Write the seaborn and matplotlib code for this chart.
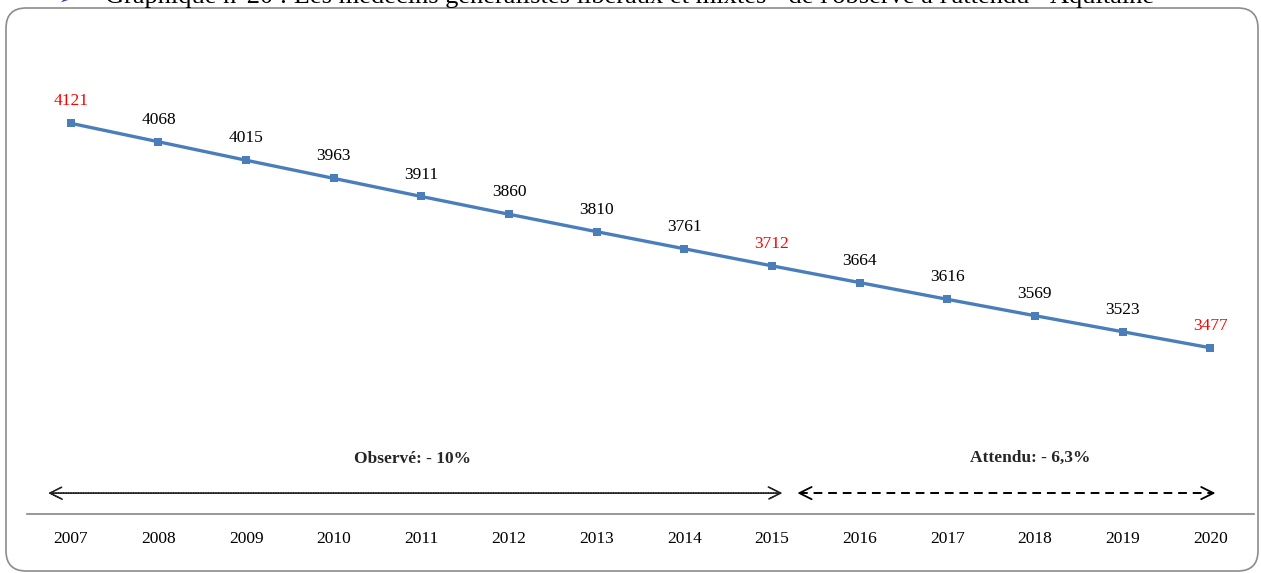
import matplotlib
matplotlib.use("Agg")
import matplotlib.pyplot as plt
import seaborn as sns
import pandas as pd
from matplotlib.patches import FancyBboxPatch

years = ["2007", "2008", "2009", "2010", "2011", "2012", "2013",
         "2014", "2015", "2016", "2017", "2018", "2019", "2020"]
values = [4121, 4068, 4015, 3963, 3911, 3860, 3810, 3761, 3712,
          3664, 3616, 3569, 3523, 3477]
red_years = ["2007", "2015", "2020"]
title = "Graphique n°20 : Les médecins généralistes libéraux et mixtes - de l'observé à l'attendu - Aquitaine"
observed_label = "Observé: - 10%"
expected_label = "Attendu: - 6,3%"

sns.set_theme(style="white")
plt.rcParams['font.family'] = ['Liberation Serif', 'DejaVu Serif']

W, H = 1261, 573
fig = plt.figure(figsize=(W / 100, H / 100), dpi=100)

left_px, right_px = 27, 1254
bottom_px, top_px = 514, 40
ax = fig.add_axes([left_px / W, 1 - bottom_px / H, (right_px - left_px) / W, (bottom_px - top_px) / H])

df = pd.DataFrame({"idx": range(len(years)), "value": values, "year": years})
sns.lineplot(data=df, x="idx", y="value", ax=ax, color="#4A7EBB", linewidth=2.4,
             marker="s", markersize=6, markeredgewidth=0, markerfacecolor="#4A7EBB")

ymin, ymax = 3000, 4360
ax.set_xlim(-0.5, len(years) - 0.5)
ax.set_ylim(ymin, ymax)

for i, (y, v) in enumerate(zip(years, values)):
    ax.annotate(str(v), (i, v), xytext=(0, 10), textcoords="offset points",
                ha="center", va="bottom", fontsize=12.5,
                color="#FF0000" if y in red_years else "black")

ax.set_xticks(range(len(years)))
ax.set_xticklabels(years, fontsize=12.5)
ax.set_xticks([i - 0.5 for i in range(len(years) + 1)], minor=True)
ax.tick_params(axis="x", which="major", length=0, pad=12, colors="black")
ax.tick_params(axis="x", which="minor", length=6, width=1, color="#868686", direction="out")
ax.set_yticks([])
ax.set_xlabel("")
ax.set_ylabel("")
for s in ["top", "right", "left"]:
    ax.spines[s].set_visible(False)
ax.spines["bottom"].set_color("#868686")
ax.spines["bottom"].set_linewidth(1.2)

# arrows
arrow_y = 3060
ax.annotate("", xy=(-0.26, arrow_y), xytext=(8.12, arrow_y),
            arrowprops=dict(arrowstyle="<->", color="#222222", lw=1.2,
                            linestyle=(0, (1, 0.5)), mutation_scale=22,
                            shrinkA=0, shrinkB=0))
x0, x1 = 8.29, 13.06
ax.plot([x0 + 0.02, x1 - 0.02], [arrow_y, arrow_y], color="black", lw=1.4,
        linestyle=(0, (4.5, 3)))
ax.annotate("", xy=(x0, arrow_y), xytext=(x0 + 0.05, arrow_y),
            arrowprops=dict(arrowstyle="->", color="black", lw=1.3, mutation_scale=22,
                            shrinkA=0, shrinkB=0))
ax.annotate("", xy=(x1, arrow_y), xytext=(x1 - 0.05, arrow_y),
            arrowprops=dict(arrowstyle="->", color="black", lw=1.3, mutation_scale=22,
                            shrinkA=0, shrinkB=0))
ax.text(3.9, 3158, observed_label, ha="center", va="center", fontsize=12.5, fontweight="bold")
ax.text(10.95, 3160, expected_label, ha="center", va="center", fontsize=12.5, fontweight="bold")

# rounded frame
box = FancyBboxPatch((6 / W, 1 - 571 / H), (1252 / W), (563 / H),
                     boxstyle="round,pad=0,rounding_size=0.016",
                     transform=fig.transFigure, fill=False, edgecolor="#8C8C8C", linewidth=1.2,
                     mutation_aspect=W / H)
fig.patches.append(box)

# title, clipped at the top edge as in the reference
fig.text(105 / W, 1 - 3 / H, title, ha="left", va="baseline", fontsize=19, color="black")
fig.text(58 / W, 1 - 4 / H, "➢", ha="left", va="baseline", fontsize=12, color="#2E3DB8",
         family=["DejaVu Sans"])

fig.savefig("out.png", dpi=100)
